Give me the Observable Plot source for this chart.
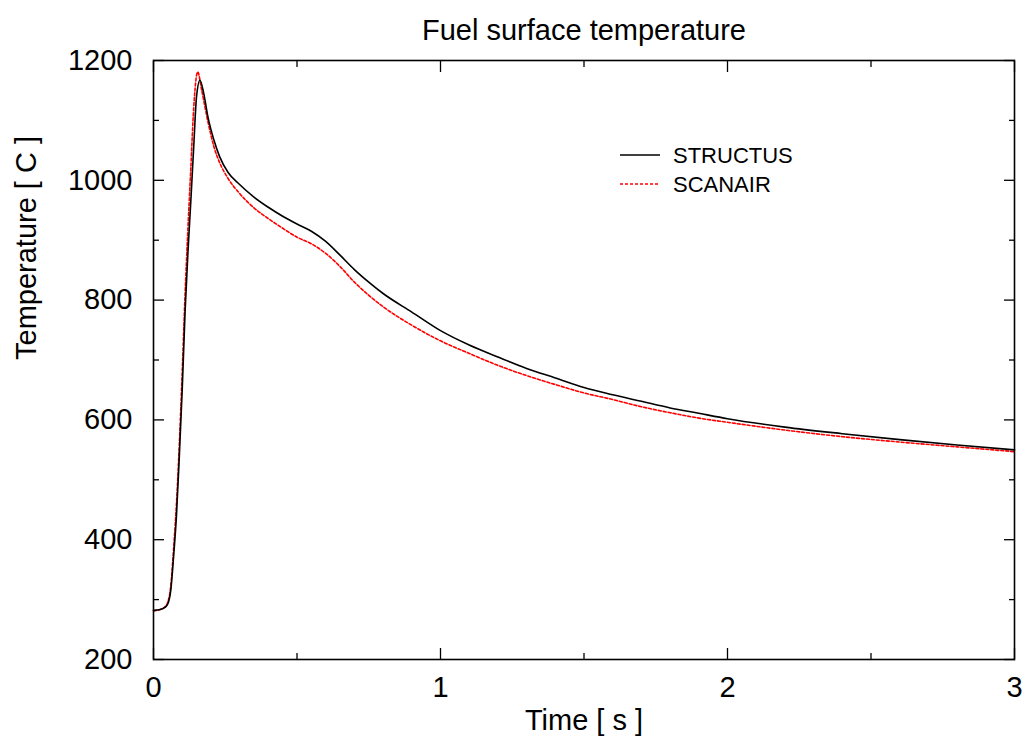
<!DOCTYPE html>
<html>
<head>
<meta charset="utf-8">
<script src="https://cdn.jsdelivr.net/npm/d3@7"></script>
<script src="https://cdn.jsdelivr.net/npm/@observablehq/plot@0.6"></script>
<style>
  html, body { margin: 0; padding: 0; background: #fff; }
  #chart { width: 1027px; height: 747px; }
</style>
</head>
<body>
<div id="chart"></div>
<script>
// ---- Data ----
const chartTitle = "Fuel surface temperature";
const xLabel = "Time [ s ]";
const yLabel = "Temperature [ C ]";
const seriesNames = ["STRUCTUS", "SCANAIR"];

const timeStructus = [0, 0.02, 0.04, 0.05, 0.06, 0.07, 0.08, 0.09, 0.10, 0.11, 0.12, 0.13, 0.14, 0.15, 0.162, 0.175, 0.19, 0.21, 0.23, 0.26, 0.30, 0.35, 0.40, 0.45, 0.50, 0.55, 0.60, 0.65, 0.70, 0.75, 0.80, 0.90, 1.0, 1.1, 1.2, 1.3, 1.4, 1.5, 1.6, 1.7, 1.8, 1.9, 2.0, 2.2, 2.4, 2.6, 2.8, 3.0];
const tempStructus = [282, 283, 287, 293, 315, 372, 440, 540, 650, 780, 880, 965, 1055, 1140, 1167, 1145, 1105, 1068, 1040, 1013, 993, 972, 955, 940, 927, 915, 898, 875, 851, 830, 811, 780, 749, 725, 705, 686, 670, 654, 642, 631, 620, 611, 602, 588, 577, 567, 558, 550];

const timeScanair = [0, 0.02, 0.04, 0.05, 0.06, 0.07, 0.08, 0.09, 0.10, 0.11, 0.12, 0.13, 0.14, 0.154, 0.168, 0.19, 0.21, 0.23, 0.26, 0.30, 0.35, 0.40, 0.45, 0.50, 0.55, 0.60, 0.65, 0.70, 0.75, 0.80, 0.90, 1.0, 1.1, 1.2, 1.3, 1.4, 1.5, 1.6, 1.7, 1.8, 1.9, 2.0, 2.2, 2.4, 2.6, 2.8, 3.0];
const tempScanair = [281, 283, 288, 296, 322, 385, 460, 560, 680, 810, 920, 1020, 1120, 1181, 1150, 1097, 1057, 1030, 1003, 978, 954, 936, 920, 905, 894, 878, 856, 830, 808, 789, 758, 732, 711, 691, 674, 659, 645, 634, 622, 612, 603, 596, 583, 572, 563, 555, 547];

const xMajorTicks = [0, 1, 2, 3];
const xMinorTicks = [0.5, 1.5, 2.5];
const yMajorTicks = [200, 400, 600, 800, 1000, 1200];
const yMinorTicks = [300, 500, 700, 900, 1100];

// ---- Build tables ----
const structusData = timeStructus.map((t, i) => ({t, v: tempStructus[i]}));
const scanairData = timeScanair.map((t, i) => ({t, v: tempScanair[i]}));

const FS = 29;
const chart = Plot.plot({
  width: 1027,
  height: 747,
  marginLeft: 153,
  marginRight: 13,
  marginTop: 60,
  marginBottom: 88,
  style: {fontFamily: "'Liberation Sans', Arial, Helvetica, sans-serif", fontSize: FS + "px", color: "#000", background: "#fff"},
  x: {domain: [0, 3]},
  y: {domain: [200, 1200]},
  marks: [
    // inward major/minor ticks on all four sides
    Plot.axisX(xMajorTicks, {anchor: "bottom", tickSize: -11, tickPadding: 28, strokeWidth: 1.3, tickFormat: d => String(d), fontSize: FS, label: null}),
    Plot.axisX(xMinorTicks, {anchor: "bottom", tickSize: -6, text: null, strokeWidth: 1.3, label: null}),
    Plot.axisX(xMajorTicks, {anchor: "top", tickSize: -11, text: null, strokeWidth: 1.3, label: null}),
    Plot.axisX(xMinorTicks, {anchor: "top", tickSize: -6, text: null, strokeWidth: 1.3, label: null}),
    Plot.axisY(yMajorTicks, {anchor: "left", tickSize: -11, tickPadding: 32, strokeWidth: 1.3, tickFormat: d => String(d), fontSize: FS, label: null}),
    Plot.axisY(yMinorTicks, {anchor: "left", tickSize: -6, text: null, strokeWidth: 1.3, label: null}),
    Plot.axisY(yMajorTicks, {anchor: "right", tickSize: -11, text: null, strokeWidth: 1.3, label: null}),
    Plot.axisY(yMinorTicks, {anchor: "right", tickSize: -6, text: null, strokeWidth: 1.3, label: null}),
    Plot.line(scanairData, {x: "t", y: "v", stroke: "#ff0000", strokeWidth: 1.6, strokeDasharray: "3,2", curve: "monotone-x"}),
    Plot.line(structusData, {x: "t", y: "v", stroke: "#000", strokeWidth: 1.6, curve: "monotone-x"}),
    Plot.frame({stroke: "#000", strokeWidth: 1.6}),
    // title and axis labels
    Plot.text([chartTitle], {text: d => d, frameAnchor: "top", dy: -41, fontSize: FS}),
    Plot.text([xLabel], {text: d => d, frameAnchor: "bottom", dy: 70, fontSize: FS}),
    Plot.text([yLabel], {text: d => d, frameAnchor: "left", dx: -127, rotate: -90, fontSize: FS})
  ]
});
document.getElementById("chart").appendChild(chart);

// ---- Legend inside the plot area (top right) ----
const svg = d3.select(chart);
const legend = svg.append("g")
  .attr("font-family", "'Liberation Sans', Arial, Helvetica, sans-serif")
  .attr("font-size", 22)
  .attr("text-anchor", "start");
const legendItems = [
  {name: seriesNames[0], stroke: "#000", dash: null},
  {name: seriesNames[1], stroke: "#ff0000", dash: "3,2"}
];
legendItems.forEach((item, i) => {
  const y = 155 + i * 29;
  legend.append("line")
    .attr("x1", 620).attr("x2", 660).attr("y1", y).attr("y2", y)
    .attr("stroke", item.stroke).attr("stroke-width", 1.6)
    .attr("stroke-dasharray", item.dash);
  legend.append("text")
    .attr("x", 673).attr("y", y + 8)
    .attr("text-anchor", "start")
    .attr("fill", "#000")
    .text(item.name);
});
</script>
</body>
</html>
